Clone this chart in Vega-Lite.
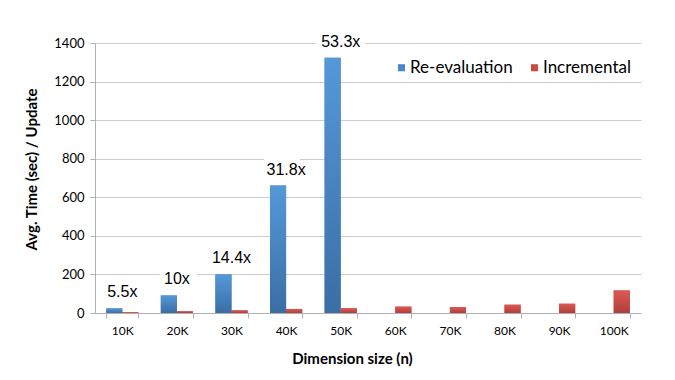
{
  "$schema": "https://vega.github.io/schema/vega-lite/v6.json",
  "autosize": "none",
  "width": 546,
  "height": 270,
  "padding": {"left": 95, "top": 43, "right": 34, "bottom": 67},
  "background": "white",
  "config": {
    "view": {"stroke": null},
    "font": "Lato",
    "axis": {"labelFont": "Lato", "titleFont": "Lato", "labelColor": "#000", "titleColor": "#000", "domainColor": "#b0b0b0", "tickColor": "#b0b0b0", "gridColor": "#cccccc"}
  },
  "data": {
    "values": [
      {"dim": "10K", "series": "Re-evaluation", "value": 24, "label": "5.5x"},
      {"dim": "10K", "series": "Incremental", "value": 4.4},
      {"dim": "20K", "series": "Re-evaluation", "value": 91, "label": "10x"},
      {"dim": "20K", "series": "Incremental", "value": 9},
      {"dim": "30K", "series": "Re-evaluation", "value": 200, "label": "14.4x"},
      {"dim": "30K", "series": "Incremental", "value": 14},
      {"dim": "40K", "series": "Re-evaluation", "value": 661, "label": "31.8x"},
      {"dim": "40K", "series": "Incremental", "value": 21},
      {"dim": "50K", "series": "Re-evaluation", "value": 1323, "label": "53.3x"},
      {"dim": "50K", "series": "Incremental", "value": 25},
      {"dim": "60K", "series": "Incremental", "value": 33},
      {"dim": "70K", "series": "Incremental", "value": 31},
      {"dim": "80K", "series": "Incremental", "value": 43},
      {"dim": "90K", "series": "Incremental", "value": 48},
      {"dim": "100K", "series": "Incremental", "value": 117}
    ]
  },
  "encoding": {
    "x": {
      "field": "dim", "type": "nominal", "sort": null,
      "scale": {"paddingInner": 0.41, "paddingOuter": 0.205},
      "axis": {"title": "Dimension size (n)", "labelAngle": 0, "labelFontSize": 12, "labelPadding": 7, "tickBand": "extent", "tickSize": 5, "titleFontSize": 15, "titleFontWeight": "bold", "titlePadding": 15, "titleX": 257}
    },
    "y": {
      "field": "value", "type": "quantitative",
      "scale": {"domain": [0, 1400], "nice": false},
      "axis": {"title": "Avg. Time (sec) / Update", "format": "d", "values": [0, 200, 400, 600, 800, 1000, 1200, 1400], "labelFontSize": 13, "tickSize": 5, "labelPadding": 6, "titleFontSize": 15, "titleFontWeight": "bold", "titlePadding": 14, "titleY": 126}
    }
  },
  "layer": [
    {
      "transform": [{"filter": "isValid(datum.label)"}],
      "mark": {"type": "text", "font": "Liberation Sans", "fontSize": 16, "dy": -16, "fill": "white", "stroke": "white", "strokeWidth": 12, "strokeJoin": "miter"},
      "encoding": {"text": {"field": "label"}}
    },
    {
      "mark": {"type": "bar"},
      "encoding": {
        "xOffset": {"field": "series", "type": "nominal", "scale": {"domain": ["Re-evaluation", "Incremental"], "paddingInner": 0, "paddingOuter": 0}},
        "color": {
          "field": "series", "type": "nominal",
          "scale": {"domain": ["Re-evaluation", "Incremental"], "range": ["#4a87c8", "#cc4a46"]},
          "legend": {"title": null, "orient": "none", "legendX": 298, "legendY": 16, "direction": "horizontal", "symbolType": "square", "symbolSize": 50, "symbolStrokeWidth": 0, "labelFont": "Lato", "labelFontSize": 17, "labelColor": "#000", "columnPadding": 13, "labelOffset": 0, "padding": 0}
        }
      }
    },
    {
      "mark": {"type": "bar"},
      "encoding": {
        "xOffset": {"field": "series", "type": "nominal"},
        "color": {
          "condition": {"test": "datum.series === 'Re-evaluation'", "value": {"gradient": "linear", "x1": 0, "y1": 0, "x2": 0, "y2": 1, "stops": [{"offset": 0, "color": "#5598d8"}, {"offset": 1, "color": "#3a6ea4"}]}},
          "value": {"gradient": "linear", "x1": 0, "y1": 0, "x2": 0, "y2": 1, "stops": [{"offset": 0, "color": "#dc5955"}, {"offset": 1, "color": "#b03e3b"}]}
        }
      }
    },
    {
      "transform": [{"filter": "isValid(datum.label)"}],
      "mark": {"type": "text", "font": "Liberation Sans", "fontSize": 16, "dy": -16, "fill": "#000"},
      "encoding": {"text": {"field": "label"}}
    }
  ]
}
